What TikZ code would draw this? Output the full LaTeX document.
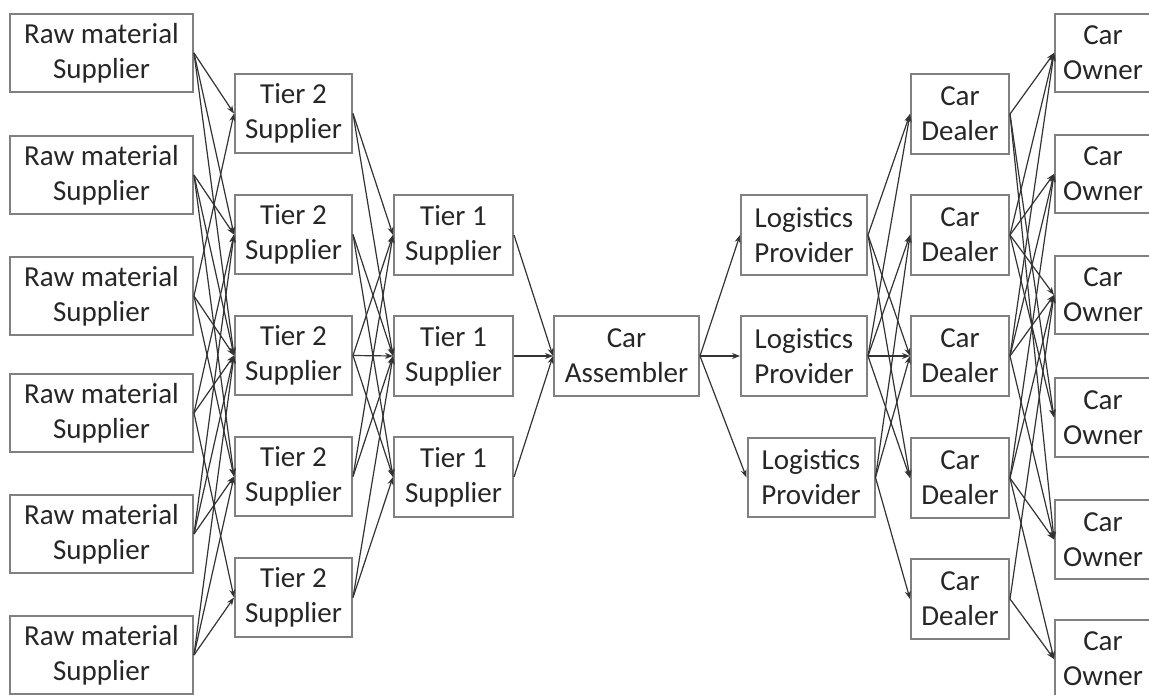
\documentclass[tikz,border=0pt]{standalone}
\usepackage{fontspec}
\setmainfont{Carlito}
\usetikzlibrary{arrows.meta}

\tikzset{
  box/.style={draw=black!50, line width=2pt, align=center, inner sep=0pt,
    font=\fontsize{29}{35}\selectfont, text=black!85},
  arr/.style={-{Stealth[length=8pt,width=6pt]}, line width=1.2pt, draw=black!80}
}

\begin{document}
\begin{tikzpicture}[x=1pt,y=-1pt]

  \useasboundingbox (0,0) rectangle (1149,695);

  % raw material suppliers
  \node[box, minimum width=183pt, minimum height=78pt] (r1) at (101.5,53) {Raw material\\Supplier};
  \node[box, minimum width=183pt, minimum height=78pt] (r2) at (101.5,175) {Raw material\\Supplier};
  \node[box, minimum width=183pt, minimum height=78pt] (r3) at (101.5,296) {Raw material\\Supplier};
  \node[box, minimum width=183pt, minimum height=78pt] (r4) at (101.5,413) {Raw material\\Supplier};
  \node[box, minimum width=183pt, minimum height=78pt] (r5) at (101.5,534) {Raw material\\Supplier};
  \node[box, minimum width=183pt, minimum height=78pt] (r6) at (101.5,655) {Raw material\\Supplier};

  % tier 2
  \node[box, minimum width=117pt, minimum height=79pt] (s1) at (293.5,113.5) {Tier 2\\Supplier};
  \node[box, minimum width=117pt, minimum height=79pt] (s2) at (293.5,234.5) {Tier 2\\Supplier};
  \node[box, minimum width=117pt, minimum height=79pt] (s3) at (293.5,355.5) {Tier 2\\Supplier};
  \node[box, minimum width=117pt, minimum height=79pt] (s4) at (293.5,476.5) {Tier 2\\Supplier};
  \node[box, minimum width=117pt, minimum height=79pt] (s5) at (293.5,597.5) {Tier 2\\Supplier};

  % tier 1
  \node[box, minimum width=119pt, minimum height=80pt] (t1) at (453.5,235) {Tier 1\\Supplier};
  \node[box, minimum width=119pt, minimum height=80pt] (t2) at (453.5,356) {Tier 1\\Supplier};
  \node[box, minimum width=119pt, minimum height=80pt] (t3) at (453.5,477) {Tier 1\\Supplier};

  \node[box, minimum width=145pt, minimum height=80pt] (asm) at (626.5,356) {Car\\Assembler};

  % logistics
  \node[box, minimum width=126pt, minimum height=80pt] (l1) at (804,235) {Logistics\\Provider};
  \node[box, minimum width=126pt, minimum height=80pt] (l2) at (804,356) {Logistics\\Provider};
  \node[box, minimum width=127pt, minimum height=79pt] (l3) at (811,477.5) {Logistics\\Provider};

  % dealers
  \node[box, minimum width=98pt, minimum height=80pt] (d1) at (960,114) {Car\\Dealer};
  \node[box, minimum width=98pt, minimum height=80pt] (d2) at (960,235) {Car\\Dealer};
  \node[box, minimum width=98pt, minimum height=80pt] (d3) at (960,356) {Car\\Dealer};
  \node[box, minimum width=98pt, minimum height=80pt] (d4) at (960,478) {Car\\Dealer};
  \node[box, minimum width=98pt, minimum height=80pt] (d5) at (960,599) {Car\\Dealer};

  % owners
  \node[box, minimum width=96pt, minimum height=78pt] (o1) at (1103,53) {Car\\Owner};
  \node[box, minimum width=96pt, minimum height=78pt] (o2) at (1103,174) {Car\\Owner};
  \node[box, minimum width=96pt, minimum height=78pt] (o3) at (1103,295) {Car\\Owner};
  \node[box, minimum width=96pt, minimum height=79pt] (o4) at (1103,417.5) {Car\\Owner};
  \node[box, minimum width=96pt, minimum height=79pt] (o5) at (1103,539.5) {Car\\Owner};
  \node[box, minimum width=96pt, minimum height=78pt] (o6) at (1103,659) {Car\\Owner};

  % raw -> tier 2
  \draw[arr] (r1.east) -- (s1.west); \draw[arr] (r1.east) -- (s2.west); \draw[arr] (r1.east) -- (s3.west);
  \draw[arr] (r2.east) -- (s2.west); \draw[arr] (r2.east) -- (s3.west); \draw[arr] (r2.east) -- (s4.west);
  \draw[arr] (r3.east) -- (s1.west); \draw[arr] (r3.east) -- (s3.west); \draw[arr] (r3.east) -- (s4.west);
  \draw[arr] (r4.east) -- (s2.west); \draw[arr] (r4.east) -- (s3.west); \draw[arr] (r4.east) -- (s5.west);
  \draw[arr] (r5.east) -- (s2.west); \draw[arr] (r5.east) -- (s3.west); \draw[arr] (r5.east) -- (s4.west);
  \draw[arr] (r6.east) -- (s3.west); \draw[arr] (r6.east) -- (s4.west); \draw[arr] (r6.east) -- (s5.west);

  % tier 2 -> tier 1
  \draw[arr] (s1.east) -- (t1.west); \draw[arr] (s1.east) -- (t2.west);
  \draw[arr] (s2.east) -- (t2.west); \draw[arr] (s2.east) -- (t3.west);
  \draw[arr] (s3.east) -- (t1.west); \draw[arr] (s3.east) -- (t2.west); \draw[arr] (s3.east) -- (t3.west);
  \draw[arr] (s4.east) -- (t1.west); \draw[arr] (s4.east) -- (t2.west);
  \draw[arr] (s5.east) -- (t2.west); \draw[arr] (s5.east) -- (t3.west);

  % tier 1 -> assembler -> logistics
  \draw[arr] (t1.east) -- (asm.west);
  \draw[arr] (t2.east) -- (asm.west);
  \draw[arr] (t3.east) -- (asm.west);
  \draw[arr] (asm.east) -- (l1.west);
  \draw[arr] (asm.east) -- (l2.west);
  \draw[arr] (asm.east) -- (l3.west);

  % logistics -> dealers
  \draw[arr] (l1.east) -- (d1.west); \draw[arr] (l1.east) -- (d3.west); \draw[arr] (l1.east) -- (d4.west);
  \draw[arr] (l2.east) -- (d1.west); \draw[arr] (l2.east) -- (d2.west); \draw[arr] (l2.east) -- (d3.west); \draw[arr] (l2.east) -- (d4.west);
  \draw[arr] (l3.east) -- (d2.west); \draw[arr] (l3.east) -- (d3.west); \draw[arr] (l3.east) -- (d5.west);

  % dealers -> owners
  \draw[arr] (d1.east) -- (o1.west); \draw[arr] (d1.east) -- (o4.west); \draw[arr] (d1.east) -- (o5.west);
  \draw[arr] (d2.east) -- (o1.west); \draw[arr] (d2.east) -- (o2.west); \draw[arr] (d2.east) -- (o3.west); \draw[arr] (d2.east) -- (o4.west);
  \draw[arr] (d3.east) -- (o1.west); \draw[arr] (d3.east) -- (o2.west); \draw[arr] (d3.east) -- (o3.west); \draw[arr] (d3.east) -- (o5.west);
  \draw[arr] (d4.east) -- (o2.west); \draw[arr] (d4.east) -- (o3.west); \draw[arr] (d4.east) -- (o5.west); \draw[arr] (d4.east) -- (o6.west);
  \draw[arr] (d5.east) -- (o3.west); \draw[arr] (d5.east) -- (o6.west);

\end{tikzpicture}
\end{document}
